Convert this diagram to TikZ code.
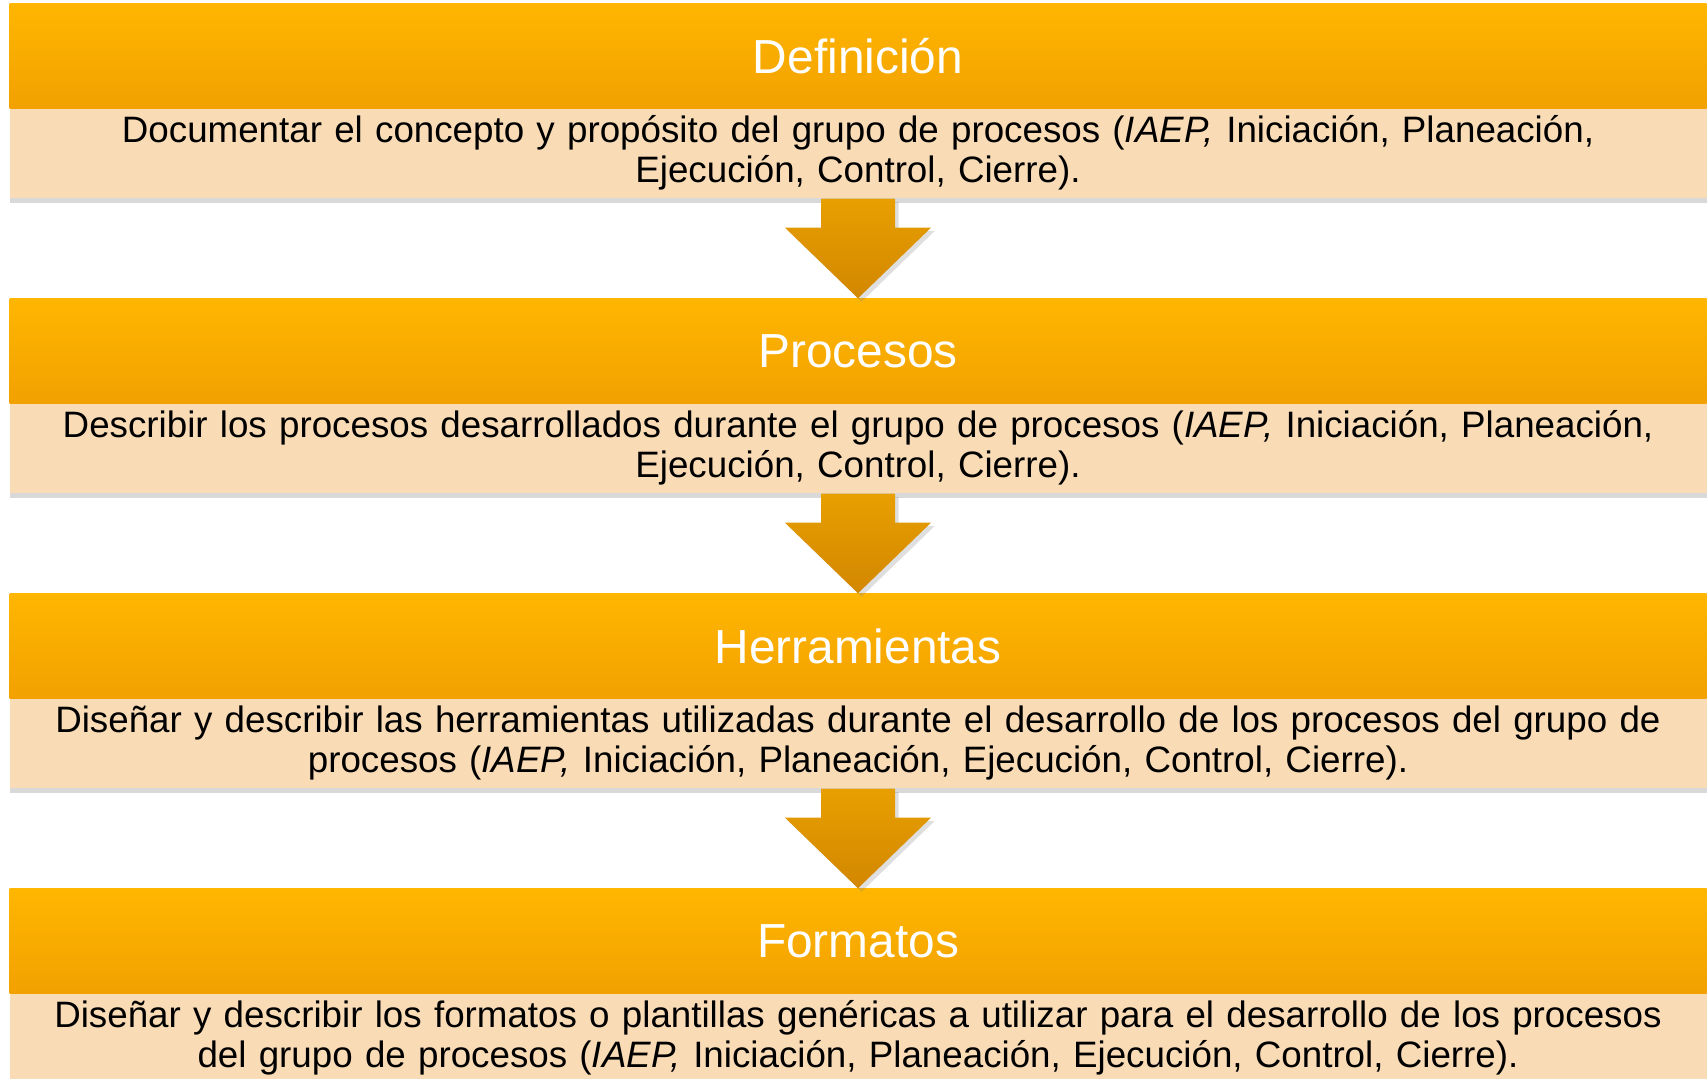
\documentclass[tikz,border=0pt]{standalone}
\usepackage{fontspec}
\setmainfont{Liberation Sans}
\usepackage{tikz}
\usetikzlibrary{calc,shadows}
\definecolor{headtop}{HTML}{FFB600}
\definecolor{headmid}{HTML}{FDB300}
\definecolor{headbot}{HTML}{F2A100}
\definecolor{bodyfill}{HTML}{F9DBB6}
\definecolor{arrowtop}{HTML}{E89F00}
\definecolor{arrowbot}{HTML}{D28700}
\begin{document}
\begin{tikzpicture}[x=0.01cm,y=0.01cm,
  headbox/.style={shade, top color=headtop, middle color=headmid, bottom color=headbot, minimum width=16.96cm, minimum height=1.04cm, inner sep=0pt, text=white, font=\fontsize{13.6}{16}\selectfont},
  bodybox/.style={fill=bodyfill, minimum width=16.96cm, minimum height=0.9cm, inner sep=0pt, text width=16.9cm, align=center, font=\fontsize{10.45}{11.5}\selectfont, drop shadow={shadow xshift=0pt, shadow yshift=-1.5pt, opacity=0.3}},
  blockarrow/.style={top color=arrowtop, bottom color=arrowbot, drop shadow={shadow xshift=1pt, shadow yshift=-1pt, opacity=0.25}}]
\useasboundingbox (0,0) rectangle (1708,1079);
\node[bodybox] (defbody) at (858,926) {Documentar el concepto y propósito del grupo de procesos (\textit{IAEP,} Iniciación, Planeación,\\ Ejecución, Control, Cierre).};
\node[headbox] (defhead) at (858,1023) {Definición};
\node[bodybox] (procbody) at (858,631) {Describir los procesos desarrollados durante el grupo de procesos (\textit{IAEP,} Iniciación, Planeación,\\ Ejecución, Control, Cierre).};
\node[headbox] (prochead) at (858,728) {Procesos};
\node[bodybox] (herrbody) at (858,336) {Diseñar y describir las herramientas utilizadas durante el desarrollo de los procesos del grupo de\\ procesos (\textit{IAEP,} Iniciación, Planeación, Ejecución, Control, Cierre).};
\node[headbox] (herrhead) at (858,433) {Herramientas};
\node[bodybox] (formbody) at (858,41) {Diseñar y describir los formatos o plantillas genéricas a utilizar para el desarrollo de los procesos\\ del grupo de procesos (\textit{IAEP,} Iniciación, Planeación, Ejecución, Control, Cierre).};
\node[headbox] (formhead) at (858,138) {Formatos};
\foreach \a/\b in {defbody/prochead, procbody/herrhead, herrbody/formhead}
  \shade[blockarrow] ($(\a.south)+(-37,0)$) -- ($(\a.south)+(37,0)$) -- ($(\a.south)+(37,-29)$) -- ($(\a.south)+(73,-29)$) -- (\b.north) -- ($(\a.south)+(-73,-29)$) -- ($(\a.south)+(-37,-29)$) -- cycle;
\end{tikzpicture}
\end{document}
